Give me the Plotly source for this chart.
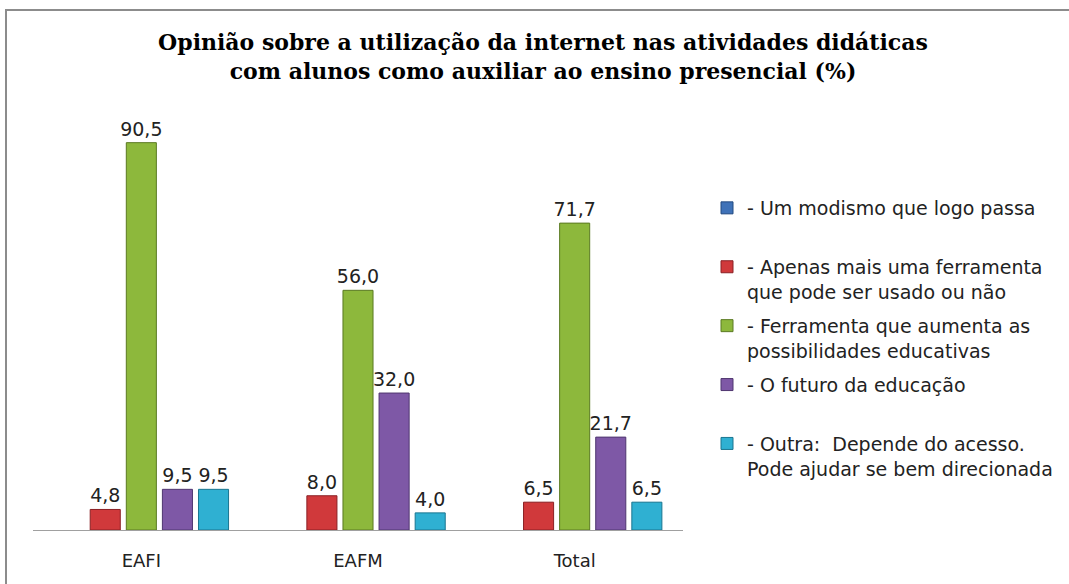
import plotly.graph_objects as go

categories = ["EAFI", "EAFM", "Total"]
series_names = [
    "- Um modismo que logo passa<br> ",
    "- Apenas mais uma ferramenta<br>que pode ser usado ou não",
    "- Ferramenta que aumenta as<br>possibilidades educativas",
    "- O futuro da educação<br> ",
    "- Outra:  Depende do acesso.<br>Pode ajudar se bem direcionada",
]
modismo = [None, None, None]
apenas_ferramenta = [4.8, 8.0, 6.5]
aumenta_possibilidades = [90.5, 56.0, 71.7]
futuro = [9.5, 32.0, 21.7]
outra = [9.5, 4.0, 6.5]
values = [modismo, apenas_ferramenta, aumenta_possibilidades, futuro, outra]

colors = ["#3F72B8", "#D0393B", "#8DB83C", "#7E58A6", "#2FB0D2"]
outlines = ["#234a80", "#8a2024", "#5a7a22", "#4f3670", "#1a7590"]

fig = go.Figure()
for i, (name, vals) in enumerate(zip(series_names, values)):
    fig.add_trace(go.Bar(
        x=categories,
        y=vals,
        name=name,
        legendgroup=f"g{i}",
        marker=dict(color=colors[i], line=dict(color=outlines[i], width=1)),
        text=[("" if v is None else f"{v:.1f}".replace(".", ",")) for v in vals],
        textposition="outside",
        constraintext="none",
        textfont=dict(family="DejaVu Sans", size=19, color="#222222"),
        cliponaxis=False,
    ))

W, H = 1069, 584
ml, mr, mt, mb = 33, 386, 102, 54
pw, ph = W - ml - mr, H - mt - mb

def px_to_paper_x(px):
    return (px - ml) / pw

def px_to_paper_y(py):
    return (H - mb - py) / ph

fig.add_shape(type="rect", xref="paper", yref="paper",
              x0=px_to_paper_x(6), x1=px_to_paper_x(1080),
              y0=px_to_paper_y(600), y1=px_to_paper_y(10),
              line=dict(color="#8c8c8c", width=2), fillcolor="rgba(0,0,0,0)", layer="below")

fig.update_layout(
    width=W, height=H,
    margin=dict(l=ml, r=mr, t=mt, b=mb, autoexpand=False),
    paper_bgcolor="white", plot_bgcolor="white",
    barmode="group", bargap=0.167, bargroupgap=0.167,
    title=dict(
        text="Opinião sobre a utilização da internet nas atividades didáticas<br>com alunos como auxiliar ao ensino presencial (%)",
        font=dict(family="DejaVu Serif", size=22, color="black", weight="bold"),
        x=543 / W, xanchor="center", y=1 - 50 / H, yanchor="top",
    ),
    xaxis=dict(showline=True, linecolor="#a0a0a0", linewidth=1, ticks="",
               ticklabelstandoff=14,
               tickfont=dict(family="DejaVu Sans", size=18, color="#222222"),
               showgrid=False, zeroline=False),
    yaxis=dict(range=[0, 100], visible=False),
    legend=dict(x=px_to_paper_x(707), xanchor="left", y=px_to_paper_y(189), yanchor="top",
                font=dict(family="DejaVu Sans", size=19, color="#222222"),
                tracegroupgap=6.5, valign="top", bgcolor="rgba(0,0,0,0)"),
    showlegend=True,
)

fig.write_html("out.html", config={"displayModeBar": False},
               post_script="document.body.style.margin='0';")
